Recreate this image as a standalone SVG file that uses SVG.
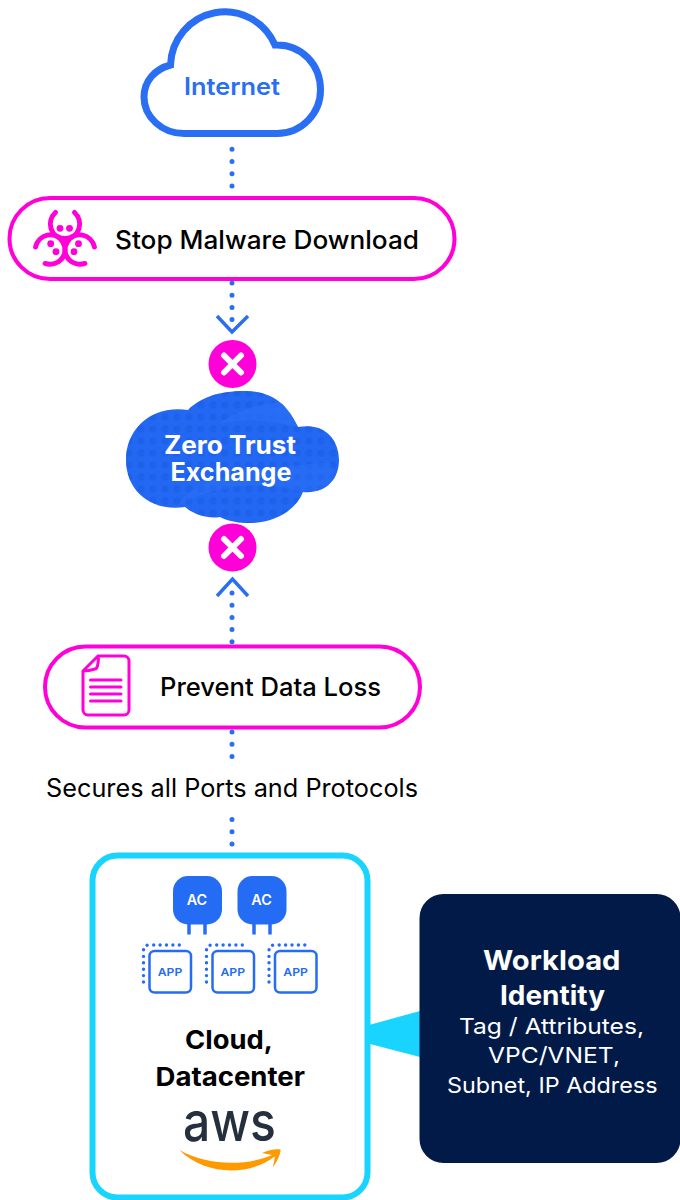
<svg xmlns="http://www.w3.org/2000/svg" width="680" height="1200" viewBox="0 0 680 1200">
<style>
text{font-family:Inter,"Noto Sans","Liberation Sans",sans-serif;}
.pill{fill:#fff;stroke:#ff00d8;stroke-width:4;}
.dots{fill:none;stroke:#2a6ff3;stroke-width:5;stroke-linecap:round;stroke-dasharray:0 12.2;}
.chev{fill:none;stroke:#2a6ff3;stroke-width:3.5;}
.x{stroke:#fff;stroke-width:6;stroke-linecap:round;}
.mg{fill:none;stroke:#ff00d8;stroke-linecap:round;}
.ac{fill:#256cf5;}
.leg{stroke:#256cf5;stroke-width:3.5;}
.app{fill:#fff;stroke:#256cf5;stroke-width:2.5;}
.appdots{fill:none;stroke:#256cf5;stroke-width:3.4;stroke-linecap:round;stroke-dasharray:0 6.4;}
.t26{font-size:25px;font-weight:500;fill:#000;}
</style>
<defs>
<pattern id="halftone" width="12" height="12" patternUnits="userSpaceOnUse" x="3" y="3">
<circle cx="6" cy="6" r="3.8" fill="#1a5ae4" fill-opacity=".5"/>
</pattern>
<clipPath id="zc"><path d="M188 410C200 398 218 391 245 391C272 391 288 405 298 427C325 422 339 440 339 460C339 480 325 494 303 492C295 512 272 523 250 523C238 523 228 521 220 517C208 519 195 515 185 507C150 512 126 490 126 460C126 430 150 405 188 410Z"/></clipPath>
<path id="bioarc" d="M55.5 212.500C46 221 50 238.500 65 238.500C80 238.500 84 221 74.500 212.500" fill="none" stroke="#ff00d8" stroke-width="5" stroke-linecap="round"/>
</defs>

<g id="connectors">
<path class="dots" d="M232 149.300V186"/>
<path class="dots" d="M232 283V320"/>
<path class="chev" d="M217 316L232 332L248 316"/>
<path class="chev" d="M217 596L232.500 579L248 596"/>
<path class="dots" d="M232 593V644"/>
<path class="dots" d="M232 732V758"/>
<path class="dots" d="M232 819.500V845"/>
<path d="M370 1024.700L420 1011V1057L370 1044Z" fill="#19d4ff"/>
</g>

<g id="internet">
<path d="M170.500 65A54.500 55 0 0 1 275 45C302 44 320.500 65 320.500 90C320.500 113 302 133.500 277 133.500H184C162 133.500 144 117 144 97C144 81 155 69 170.500 65Z" fill="#fff" stroke="#2a6ff3" stroke-width="7" stroke-linejoin="miter"/>
<text x="184" y="95" font-size="24" font-weight="600" fill="#2a6ff3" textLength="96" lengthAdjust="spacingAndGlyphs">Internet</text>
</g>

<g id="stop-malware">
<rect class="pill" x="9.500" y="198" width="445" height="81" rx="40.500"/>
<g id="biohazard">
<use href="#bioarc"/>
<use href="#bioarc" transform="rotate(120 65 241)"/>
<use href="#bioarc" transform="rotate(240 65 241)"/>
<g fill="#ff00d8">
<circle cx="65" cy="240.600" r="3.300"/>
<circle cx="60" cy="228.300" r="3.400"/><circle cx="69.500" cy="228.300" r="3.400"/>
<circle cx="50.700" cy="243.700" r="3.400"/><circle cx="56" cy="251.700" r="3.400"/>
<circle cx="78.500" cy="243.700" r="3.400"/><circle cx="74" cy="251.700" r="3.400"/>
</g>
</g>
<text class="t26" x="115" y="248.500" textLength="304" lengthAdjust="spacingAndGlyphs">Stop Malware Download</text>
</g>

<g id="block-top">
<circle cx="232.500" cy="364" r="24" fill="#ff00d8"/>
<path class="x" d="M224 355.500L241 372.500M241 355.500L224 372.500"/>
</g>

<g id="zero-trust-exchange">
<path d="M188 410C200 398 218 391 245 391C272 391 288 405 298 427C325 422 339 440 339 460C339 480 325 494 303 492C295 512 272 523 250 523C238 523 228 521 220 517C208 519 195 515 185 507C150 512 126 490 126 460C126 430 150 405 188 410Z" fill="#2268f2"/>
<g clip-path="url(#zc)">
<rect x="120" y="385" width="225" height="145" fill="url(#halftone)"/>
<path d="M218 424C235 412 255 404 282 402L298 427C270 420 240 418 218 424Z" fill="#2a6ff5" fill-opacity=".75"/>
<path d="M178 506C190 480 230 470 330 462L340 490L300 492C260 480 215 485 178 506Z" fill="#2a6ff5" fill-opacity=".5"/>
</g>
<text x="164" y="453.500" font-size="25" font-weight="700" fill="#fff" textLength="132" lengthAdjust="spacingAndGlyphs">Zero Trust</text>
<text x="170.500" y="480.500" font-size="25" font-weight="700" fill="#fff" textLength="121" lengthAdjust="spacingAndGlyphs">Exchange</text>
</g>

<g id="block-bottom">
<circle cx="232.500" cy="547.500" r="24" fill="#ff00d8"/>
<path class="x" d="M224 539L241 556M241 539L224 556"/>
</g>

<g id="prevent-data-loss">
<rect class="pill" x="45" y="646.500" width="375" height="81" rx="40.500"/>
<g id="doc-icon">
<path class="mg" stroke-width="3" stroke-linejoin="round" d="M98 656H124A5 5 0 0 1 129 661V710A5 5 0 0 1 124 715H88A5 5 0 0 1 83 710V671ZM98 656C99 659 98 669 95 669C92 670 86 671 83 671"/>
<path class="mg" stroke-width="3" stroke-linecap="butt" d="M90.500 680H121M90.500 687H121M90.500 694H121M90.500 701H121"/>
</g>
<text class="t26" x="160" y="696" textLength="221" lengthAdjust="spacingAndGlyphs">Prevent Data Loss</text>
</g>

<g id="ports-label">
<text x="46" y="796.500" font-size="25" fill="#000" textLength="372" lengthAdjust="spacingAndGlyphs">Secures all Ports and Protocols</text>
</g>

<g id="cloud-datacenter">
<rect x="92.500" y="855.500" width="275" height="342" rx="25" fill="#fff" stroke="#19d4ff" stroke-width="6"/>
<g id="ac-1">
<rect class="ac" x="173" y="876" width="49" height="48.500" rx="15"/>
<path class="leg" d="M189 924V934.500M205 924V934.500"/>
<text x="186.700" y="904.700" font-size="14" font-weight="600" fill="#fff" textLength="20.500" lengthAdjust="spacingAndGlyphs">AC</text>
</g>
<g id="ac-2">
<rect class="ac" x="237.500" y="876" width="49" height="48.500" rx="15"/>
<path class="leg" d="M254 924V934.500M270 924V934.500"/>
<text x="251.300" y="904.700" font-size="14" font-weight="600" fill="#fff" textLength="20.500" lengthAdjust="spacingAndGlyphs">AC</text>
</g>
<g id="app-1">
<path class="appdots" d="M143.500 982V951Q143.500 945 149 945H181"/>
<rect class="app" x="149.500" y="951" width="41.500" height="41.500" rx="5"/>
<text x="157.700" y="975.700" font-size="11" font-weight="600" fill="#256cf5" textLength="24.600" lengthAdjust="spacingAndGlyphs">APP</text>
</g>
<g id="app-2">
<path class="appdots" d="M206.500 982V951Q206.500 945 212 945H244"/>
<rect class="app" x="212.500" y="951" width="41.500" height="41.500" rx="5"/>
<text x="220.500" y="975.700" font-size="11" font-weight="600" fill="#256cf5" textLength="24.600" lengthAdjust="spacingAndGlyphs">APP</text>
</g>
<g id="app-3">
<path class="appdots" d="M269 982V951Q269 945 274.500 945H306.500"/>
<rect class="app" x="275" y="951" width="41.500" height="41.500" rx="5"/>
<text x="283.300" y="975.700" font-size="11" font-weight="600" fill="#256cf5" textLength="24.600" lengthAdjust="spacingAndGlyphs">APP</text>
</g>
<text x="185" y="1049" font-size="26" font-weight="700" fill="#000" textLength="88" lengthAdjust="spacingAndGlyphs">Cloud,</text>
<text x="155.500" y="1085.500" font-size="26" font-weight="700" fill="#000" textLength="149.500" lengthAdjust="spacingAndGlyphs">Datacenter</text>
<g id="aws-logo">
<text x="183" y="1140.700" font-size="55" font-weight="500" fill="#252f3e" textLength="93" lengthAdjust="spacingAndGlyphs">aws</text>
<path d="M179.500 1150C205 1165 245 1167 272 1155L262 1153C268 1150 276 1148.500 280.500 1149.500C281 1153 277 1162 273 1167C273.500 1163 275 1159 274.500 1156.500C250 1176 205 1176 179.500 1150Z" fill="#f90"/>
</g>
</g>

<g id="workload-identity">
<rect x="419.500" y="894" width="261" height="269" rx="24" fill="#011a47"/>
<text x="483" y="970" font-size="27" font-weight="700" fill="#fff" textLength="137.500" lengthAdjust="spacingAndGlyphs">Workload</text>
<text x="500" y="1005" font-size="27" font-weight="700" fill="#fff" textLength="105" lengthAdjust="spacingAndGlyphs">Identity</text>
<text x="459" y="1033.500" font-size="22" fill="#fff" textLength="185" lengthAdjust="spacingAndGlyphs">Tag / Attributes,</text>
<text x="488" y="1063" font-size="22" fill="#fff" textLength="132" lengthAdjust="spacingAndGlyphs">VPC/VNET,</text>
<text x="447" y="1092.500" font-size="22" fill="#fff" textLength="210.500" lengthAdjust="spacingAndGlyphs">Subnet, IP Address</text>
</g>
</svg>
